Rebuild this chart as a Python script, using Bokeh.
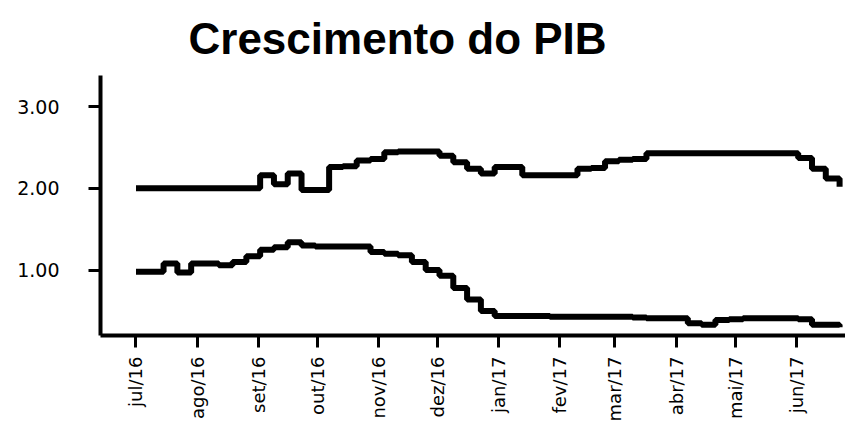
import math
import pandas as pd
from bokeh.plotting import figure
from bokeh.models import (FixedTicker, NumeralTickFormatter, CustomJSTickFormatter,
                          Range1d, Title)
from bokeh.embed import file_html
from bokeh.resources import INLINE

# weekly survey dates
dates = pd.date_range("2016-07-01", periods=52, freq="7D")

# upper series (expected growth, 2018)
pib_2018 = [2.00, 2.00, 2.00, 2.00, 2.00, 2.00, 2.00, 2.00, 2.00, 2.16,
            2.05, 2.18, 1.98, 1.98, 2.26, 2.27, 2.34, 2.36, 2.44, 2.45,
            2.45, 2.45, 2.40, 2.32, 2.24, 2.18, 2.26, 2.26, 2.16, 2.16,
            2.16, 2.16, 2.24, 2.25, 2.33, 2.35, 2.36, 2.43, 2.43, 2.43,
            2.43, 2.43, 2.43, 2.43, 2.43, 2.43, 2.43, 2.43, 2.37, 2.24,
            2.12, 2.02]

# lower series (expected growth, 2017)
pib_2017 = [0.98, 0.98, 1.08, 0.97, 1.08, 1.08, 1.06, 1.10, 1.17, 1.25,
            1.28, 1.34, 1.30, 1.29, 1.29, 1.29, 1.29, 1.22, 1.20, 1.18,
            1.10, 1.00, 0.93, 0.78, 0.64, 0.50, 0.44, 0.44, 0.44, 0.44,
            0.43, 0.43, 0.43, 0.43, 0.43, 0.43, 0.42, 0.41, 0.41, 0.41,
            0.35, 0.33, 0.39, 0.40, 0.41, 0.41, 0.41, 0.41, 0.40, 0.33,
            0.33, 0.30]

tick_months = ["2016-07-01", "2016-08-01", "2016-09-01", "2016-10-01",
               "2016-11-01", "2016-12-01", "2017-01-01", "2017-02-01",
               "2017-03-01", "2017-04-01", "2017-05-01", "2017-06-01"]
tick_labels = ["jul/16", "ago/16", "set/16", "out/16", "nov/16", "dez/16",
               "jan/17", "fev/17", "mar/17", "abr/17", "mai/17", "jun/17"]
y_ticks = [1.0, 2.0, 3.0]

tick_ms = [pd.Timestamp(d).value / 1e6 for d in tick_months]

p = figure(width=845, height=425, x_axis_type="datetime",
           output_backend="svg", toolbar_location=None,
           x_range=Range1d(pd.Timestamp("2016-06-13"), pd.Timestamp("2017-06-26")),
           y_range=Range1d(0.2, 3.38),
           min_border_left=100, min_border_right=0,
           min_border_top=75, min_border_bottom=90)

p.add_layout(Title(text="Crescimento do PIB", text_font="Liberation Sans",
                   text_font_size="44px", text_font_style="bold",
                   text_color="black", align="left", offset=88,
                   vertical_align="top", standoff=22), "above")

p.step(dates, pib_2018, mode="after", line_color="black", line_width=6)
p.step(dates, pib_2017, mode="after", line_color="black", line_width=6)

p.outline_line_color = None
p.xgrid.grid_line_color = None
p.ygrid.grid_line_color = None

for ax in (p.xaxis[0], p.yaxis[0]):
    ax.axis_line_width = 4
    ax.axis_line_color = "black"
    ax.major_tick_line_width = 3
    ax.major_tick_line_color = "black"
    ax.major_tick_out = 12
    ax.major_tick_in = 0
    ax.minor_tick_line_color = None
    ax.major_label_text_color = "black"
    ax.major_label_text_font = "DejaVu Sans"

p.xaxis.ticker = FixedTicker(ticks=tick_ms)
p.xaxis.formatter = CustomJSTickFormatter(
    args=dict(month_ms=tick_ms, month_labels=tick_labels),
    code="const i = month_ms.indexOf(tick); return i >= 0 ? month_labels[i] : '';")
p.xaxis.major_label_orientation = math.pi / 2
p.xaxis.major_label_text_font_size = "18px"
p.xaxis.major_label_standoff = 9

p.yaxis.ticker = FixedTicker(ticks=y_ticks)
p.yaxis.formatter = NumeralTickFormatter(format="0.00")
p.yaxis.major_label_text_font_size = "19px"
p.yaxis.major_label_standoff = 29

open("out.html", "w").write(file_html(p, INLINE))
